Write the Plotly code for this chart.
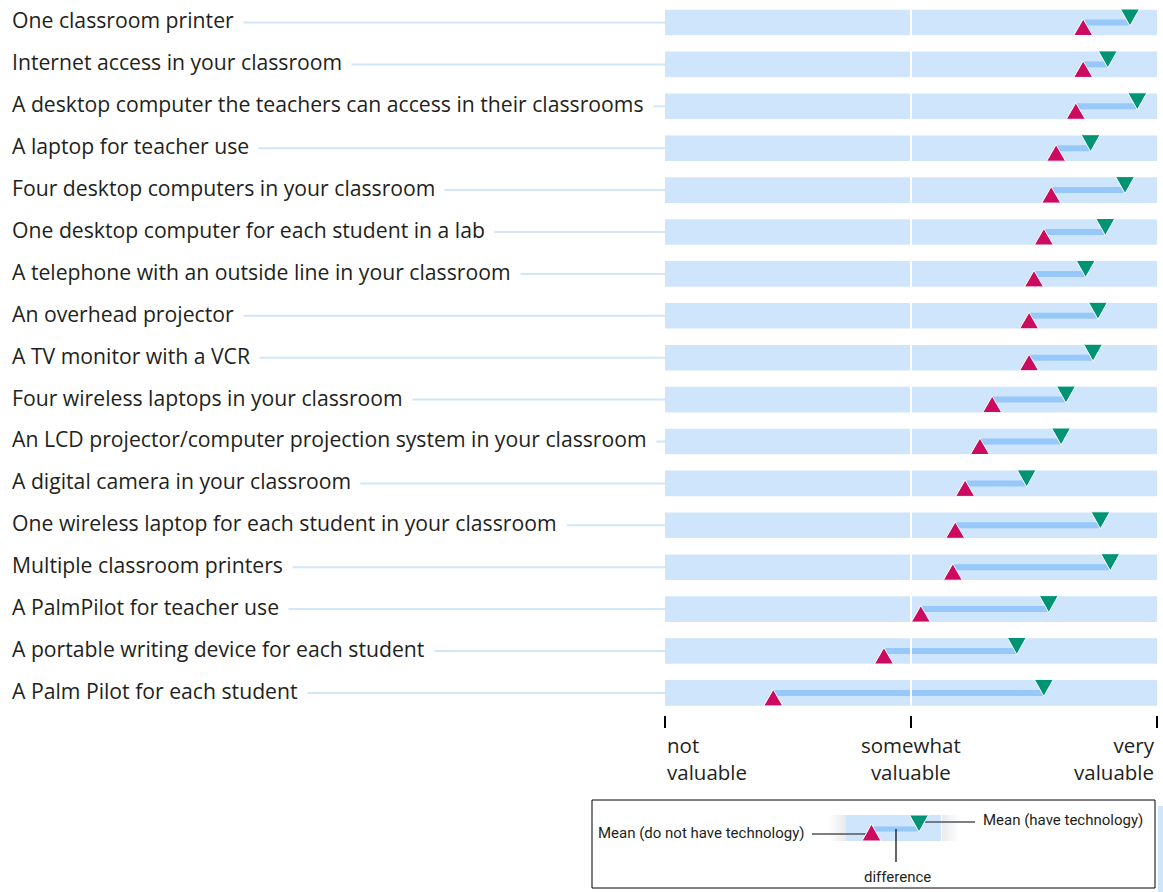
import plotly.graph_objects as go

labels = [
    "One classroom printer",
    "Internet access in your classroom",
    "A desktop computer the teachers can access in their classrooms",
    "A laptop for teacher use",
    "Four desktop computers in your classroom",
    "One desktop computer for each student in a lab",
    "A telephone with an outside line in your classroom",
    "An overhead projector",
    "A TV monitor with a VCR",
    "Four wireless laptops in your classroom",
    "An LCD projector/computer projection system in your classroom",
    "A digital camera in your classroom",
    "One wireless laptop for each student in your classroom",
    "Multiple classroom printers",
    "A PalmPilot for teacher use",
    "A portable writing device for each student",
    "A Palm Pilot for each student",
]
mean_no_tech = [2.70, 2.70, 2.67, 2.59, 2.57, 2.54, 2.50, 2.48, 2.48, 2.33, 2.28, 2.22, 2.18, 2.17, 2.04, 1.89, 1.44]
mean_have_tech = [2.89, 2.80, 2.92, 2.73, 2.87, 2.79, 2.71, 2.76, 2.74, 2.63, 2.61, 2.47, 2.77, 2.81, 2.56, 2.43, 2.54]
tick_vals = [1, 2, 3]
tick_labels = ["not<br>valuable", "somewhat<br>valuable", "very<br>valuable"]

W, H = 1163, 892
ROW0 = 22.5      # pixel centre of first row
STEP = 41.9      # pixel distance between rows
BAND_HALF = 12.8 / STEP

BAND = "#cfe5fb"
LEADER = "#d2e5f9"
CONN = "#96c8fa"
RED = "#cc0a5f"
GREEN = "#009474"
TXT = "#231f20"
FONT = "Open Sans"
FSIZE = 21.2

def px(x):
    return x / W

def py(y):
    return 1 - y / H

y_top = ROW0 / STEP
y_bot = -(H - ROW0) / STEP
ys = [-i for i in range(len(labels))]

fig = go.Figure()

# connecting lines between the two means
cx, cy = [], []
for a, b, y in zip(mean_no_tech, mean_have_tech, ys):
    cx += [a, b, None]
    cy += [y, y, None]
fig.add_trace(go.Scatter(x=cx, y=cy, mode="lines", line=dict(color=CONN, width=6),
                         hoverinfo="skip", showlegend=False))

shapes = []
annotations = []
for lab, y in zip(labels, ys):
    # band
    shapes.append(dict(type="rect", xref="x", yref="y", x0=1, x1=3,
                       y0=y - BAND_HALF, y1=y + BAND_HALF,
                       fillcolor=BAND, line=dict(width=0), layer="below"))
    # leader line
    shapes.append(dict(type="line", xref="paper", yref="y", x0=px(6), x1=px(666),
                       y0=y, y1=y, line=dict(color=LEADER, width=2), layer="below"))
    annotations.append(dict(text=lab, xref="paper", yref="y", x=px(2), y=y + 0.06,
                            xanchor="left", yanchor="middle", showarrow=False,
                            bgcolor="white", borderpad=9,
                            font=dict(family=FONT, size=FSIZE, color=TXT)))

# white divider at "somewhat valuable"
shapes.append(dict(type="line", xref="x", yref="y", x0=2, x1=2,
                   y0=ys[0] + BAND_HALF, y1=ys[-1] - BAND_HALF,
                   line=dict(color="white", width=2), layer="above"))

# triangles
for a, b, y in zip(mean_no_tech, mean_have_tech, ys):
    shapes.append(dict(type="path", xref="x", yref="y", xsizemode="pixel", ysizemode="pixel",
                       xanchor=a, yanchor=y, path="M -9.5,-13 L 9.5,-13 L 0,3.5 Z",
                       fillcolor=RED, line=dict(color="white", width=1), layer="above"))
    shapes.append(dict(type="path", xref="x", yref="y", xsizemode="pixel", ysizemode="pixel",
                       xanchor=b, yanchor=y, path="M -9.5,13.5 L 9.5,13.5 L 0,-3.5 Z",
                       fillcolor=GREEN, line=dict(color="white", width=1), layer="above"))

# tick labels
for v, t, anc in zip(tick_vals, tick_labels, ["left", "center", "right"]):
    annotations.append(dict(text=t, xref="x", yref="paper", x=v, y=py(729),
                            xanchor=anc, yanchor="top", align=anc, showarrow=False,
                            font=dict(family=FONT, size=20.5, color=TXT)))

# ---- key box ----
LFONT = "Roboto"
LSIZE = 15
shapes.append(dict(type="rect", xref="paper", yref="paper", x0=px(592), x1=px(1155),
                   y0=py(800), y1=py(888), line=dict(color="black", width=1)))
shapes.append(dict(type="rect", xref="paper", yref="paper", x0=px(1158), x1=px(1163),
                   y0=py(806), y1=py(892), fillcolor=BAND, line=dict(width=0)))
# faded band edges
for k in range(8):
    op = 0.05 + 0.05 * k
    shapes.append(dict(type="rect", xref="paper", yref="paper",
                       x0=px(830 + 2 * k), x1=px(832 + 2 * k), y0=py(841), y1=py(815),
                       fillcolor="#c8ccd2", opacity=op, line=dict(width=0)))
    shapes.append(dict(type="rect", xref="paper", yref="paper",
                       x0=px(956 - 2 * k), x1=px(958 - 2 * k), y0=py(841), y1=py(815),
                       fillcolor="#c8ccd2", opacity=op, line=dict(width=0)))
shapes.append(dict(type="rect", xref="paper", yref="paper", x0=px(846), x1=px(941),
                   y0=py(841), y1=py(815), fillcolor=BAND, line=dict(width=0)))
shapes.append(dict(type="line", xref="paper", yref="paper", x0=px(874), x1=px(918),
                   y0=py(829), y1=py(829), line=dict(color=CONN, width=5)))
shapes.append(dict(type="line", xref="paper", yref="paper", x0=px(812), x1=px(866),
                   y0=py(834), y1=py(834), line=dict(color="#555555", width=1.5)))
shapes.append(dict(type="line", xref="paper", yref="paper", x0=px(925), x1=px(975),
                   y0=py(822), y1=py(822), line=dict(color="#555555", width=1.5)))
shapes.append(dict(type="line", xref="paper", yref="paper", x0=px(896), x1=px(896),
                   y0=py(829), y1=py(862), line=dict(color="black", width=1.2)))
shapes.append(dict(type="path", xref="paper", yref="paper",
                   path=f"M {px(862)},{py(841)} L {px(881)},{py(841)} L {px(871.5)},{py(824)} Z",
                   fillcolor=RED, line=dict(color="white", width=1)))
shapes.append(dict(type="path", xref="paper", yref="paper",
                   path=f"M {px(909.5)},{py(815)} L {px(928.5)},{py(815)} L {px(919)},{py(832)} Z",
                   fillcolor=GREEN, line=dict(color="white", width=1)))
annotations.append(dict(text="Mean (do not have technology)", xref="paper", yref="paper",
                        x=px(806), y=py(833), xanchor="right", yanchor="middle",
                        showarrow=False, font=dict(family=LFONT, size=LSIZE, color=TXT)))
annotations.append(dict(text="Mean (have technology)", xref="paper", yref="paper",
                        x=px(981), y=py(820), xanchor="left", yanchor="middle",
                        showarrow=False, font=dict(family=LFONT, size=LSIZE, color=TXT)))
annotations.append(dict(text="difference", xref="paper", yref="paper",
                        x=px(897), y=py(877), xanchor="center", yanchor="middle",
                        showarrow=False, font=dict(family=LFONT, size=LSIZE, color=TXT)))

fig.update_layout(
    width=W, height=H,
    margin=dict(l=0, r=0, t=0, b=0),
    paper_bgcolor="white", plot_bgcolor="white",
    showlegend=False,
    shapes=shapes, annotations=annotations,
    xaxis=dict(domain=[px(665), px(1157)], range=[1, 3], tickvals=tick_vals,
               showticklabels=False, ticks="outside", ticklen=12, tickwidth=2,
               tickcolor="black", showgrid=False, zeroline=False, showline=False,
               anchor="free", position=py(715), fixedrange=True),
    yaxis=dict(range=[y_bot, y_top], visible=False, showgrid=False, zeroline=False,
               fixedrange=True),
)

fig.write_html("out.html", config={"displayModeBar": False},
               post_script="document.body.style.margin='0px';document.body.style.overflow='hidden';")
